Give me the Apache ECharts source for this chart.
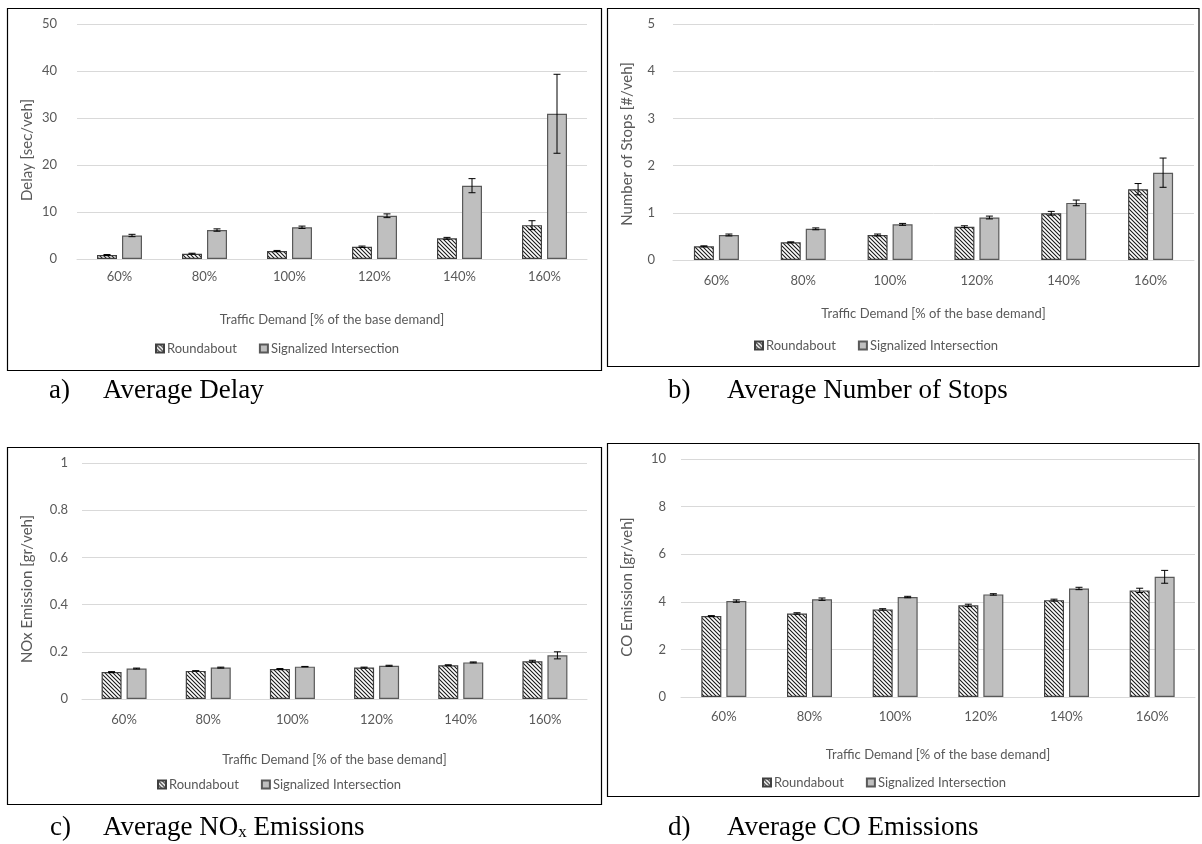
<!DOCTYPE html>
<html><head><meta charset="utf-8">
<script src="https://cdn.jsdelivr.net/npm/echarts@6/dist/echarts.min.js"></script>
<style>html,body{margin:0;padding:0;background:#fff;}#c{width:1202px;height:844px;}</style>
</head><body><div id="c"></div>
<script>
// ---------- DATA ----------
var categories = ['60%', '80%', '100%', '120%', '140%', '160%'];
var seriesNames = ['Roundabout', 'Signalized Intersection'];

var delayRound    = [0.85, 1.13, 1.7, 2.6, 4.4, 7.2];
var delayRoundErr = [0.1, 0.1, 0.12, 0.15, 0.2, 0.95];
var delaySig      = [5.0, 6.16, 6.75, 9.2, 15.6, 30.9];
var delaySigErr   = [0.25, 0.25, 0.25, 0.4, 1.5, 8.4];

var stopsRound    = [0.29, 0.375, 0.53, 0.705, 0.99, 1.50];
var stopsRoundErr = [0.01, 0.01, 0.02, 0.02, 0.04, 0.12];
var stopsSig      = [0.53, 0.66, 0.755, 0.90, 1.21, 1.85];
var stopsSigErr   = [0.02, 0.02, 0.02, 0.03, 0.06, 0.31];

var noxRound      = [0.114, 0.119, 0.127, 0.133, 0.143, 0.160];
var noxRoundErr   = [0.002, 0.001, 0.002, 0.002, 0.002, 0.004];
var noxSig        = [0.129, 0.133, 0.137, 0.141, 0.155, 0.185];
var noxSigErr     = [0.002, 0.002, 0.001, 0.002, 0.002, 0.015];

var coRound       = [3.40, 3.51, 3.68, 3.85, 4.07, 4.48];
var coRoundErr    = [0.02, 0.03, 0.03, 0.05, 0.04, 0.09];
var coSig         = [4.03, 4.11, 4.20, 4.31, 4.56, 5.05];
var coSigErr      = [0.05, 0.05, 0.03, 0.03, 0.05, 0.27];

var yMaxes     = [50, 5, 1, 10];
var yIntervals = [10, 1, 0.2, 2];
var yNames     = ['Delay [sec/veh]', 'Number of Stops [#/veh]', 'NOx Emission [gr/veh]', 'CO Emission [gr/veh]'];
var xName      = 'Traffic Demand [% of the base demand]';

// ---------- STYLE / LAYOUT ----------
var FONT = 'Lato';
var TXT = '#595959';
var BAR_W = 20;
var GAP_PCT = 0.25;

var panels = [
  {r: delayRound, re: delayRoundErr, s: delaySig, se: delaySigErr,
   grid: {left: 77, top: 24, width: 510, height: 235}, nameGap: 42, namePad: 17, labMargin: 20,
   xLabMargin: 11, xNameGap: 54, legend: {left: 150, top: 337}},
  {r: stopsRound, re: stopsRoundErr, s: stopsSig, se: stopsSigErr,
   grid: {left: 673, top: 24, width: 521, height: 236}, nameGap: 38, namePad: 4, labMargin: 18,
   xLabMargin: 14, xNameGap: 47, legend: {left: 749, top: 334}},
  {r: noxRound, re: noxRoundErr, s: noxSig, se: noxSigErr,
   grid: {left: 82, top: 463, width: 505, height: 236}, nameGap: 47, namePad: 16, labMargin: 14,
   xLabMargin: 14, xNameGap: 54, legend: {left: 152, top: 773}},
  {r: coRound, re: coRoundErr, s: coSig, se: coSigErr,
   grid: {left: 681, top: 459, width: 514, height: 238}, nameGap: 46, namePad: 18, labMargin: 15,
   xLabMargin: 13, xNameGap: 51, legend: {left: 757, top: 771}}
];

// hatch pattern
var hatch = document.createElement('canvas');
hatch.width = 4; hatch.height = 4;
(function () {
  var ctx = hatch.getContext('2d');
  ctx.fillStyle = '#ffffff'; ctx.fillRect(0, 0, 4, 4);
  ctx.strokeStyle = '#1a1a1a'; ctx.lineWidth = 1.1;
  ctx.beginPath();
  ctx.moveTo(-1, -1); ctx.lineTo(5, 5);
  ctx.moveTo(-1, 3); ctx.lineTo(1, 5);
  ctx.moveTo(3, -1); ctx.lineTo(5, 1);
  ctx.stroke();
})();

function errRender(sign) {
  return function (params, api) {
    var idx = api.value(0);
    var lo = api.coord([idx, api.value(1)]);
    var hi = api.coord([idx, api.value(2)]);
    var off = sign * BAR_W * (1 + GAP_PCT) / 2;
    var x = lo[0] + off, c = 3.5;
    var st = {stroke: '#000', lineWidth: 1};
    return {type: 'group', children: [
      {type: 'line', shape: {x1: x, y1: lo[1], x2: x, y2: hi[1]}, style: st},
      {type: 'line', shape: {x1: x - c, y1: lo[1], x2: x + c, y2: lo[1]}, style: st},
      {type: 'line', shape: {x1: x - c, y1: hi[1], x2: x + c, y2: hi[1]}, style: st}
    ]};
  };
}
function errData(v, e) {
  return v.map(function (val, i) { return [i, val - e[i], val + e[i]]; });
}

var grids = [], xAxes = [], yAxes = [], series = [], legends = [];
panels.forEach(function (p, i) {
  grids.push(p.grid);
  xAxes.push({
    type: 'category', gridIndex: i, data: categories,
    axisLine: {show: true, lineStyle: {color: '#d9d9d9', width: 1}},
    axisTick: {show: false},
    axisLabel: {color: TXT, fontFamily: FONT, fontSize: 13, margin: p.xLabMargin},
    name: xName, nameLocation: 'middle', nameGap: p.xNameGap,
    nameTextStyle: {color: TXT, fontFamily: FONT, fontSize: 13}
  });
  yAxes.push({
    type: 'value', gridIndex: i, min: 0, max: yMaxes[i], interval: yIntervals[i],
    axisLine: {show: false}, axisTick: {show: false},
    splitLine: {lineStyle: {color: '#d9d9d9', width: 1}},
    axisLabel: {color: TXT, fontFamily: FONT, fontSize: 13, margin: p.labMargin},
    name: yNames[i], nameLocation: 'middle', nameGap: p.nameGap,
    nameTextStyle: {color: TXT, fontFamily: FONT, fontSize: 15, padding: [0, p.namePad, 0, 0]}
  });
  series.push({
    name: seriesNames[0], type: 'bar', xAxisIndex: i, yAxisIndex: i, data: p.r,
    barWidth: BAR_W, barGap: (GAP_PCT * 100) + '%',
    itemStyle: {color: {image: hatch, repeat: 'repeat'}, borderColor: '#404040', borderWidth: 1.2},
    emphasis: {disabled: true}, animation: false
  });
  series.push({
    name: seriesNames[1], type: 'bar', xAxisIndex: i, yAxisIndex: i, data: p.s,
    barWidth: BAR_W, barGap: (GAP_PCT * 100) + '%',
    itemStyle: {color: '#bfbfbf', borderColor: '#595959', borderWidth: 1.2},
    emphasis: {disabled: true}, animation: false
  });
  series.push({
    type: 'custom', xAxisIndex: i, yAxisIndex: i, renderItem: errRender(-1),
    data: errData(p.r, p.re), z: 10, silent: true, animation: false
  });
  series.push({
    type: 'custom', xAxisIndex: i, yAxisIndex: i, renderItem: errRender(1),
    data: errData(p.s, p.se), z: 10, silent: true, animation: false
  });
  legends.push({
    left: p.legend.left, top: p.legend.top, data: seriesNames, icon: 'rect',
    itemWidth: 8, itemHeight: 8, itemGap: 22, selectedMode: false,
    textStyle: {color: TXT, fontFamily: FONT, fontSize: 13, padding: [0, 0, 0, -2]}
  });
});

var SERIF = 'Liberation Serif';
function cap(x, y, t) {
  return {type: 'text', left: x, top: y, style: {text: t, font: '27px "Liberation Serif"', fill: '#000'}};
}
var graphics = [
  {type: 'rect', shape: {x: 7.5, y: 8.5, width: 594, height: 362}, style: {fill: 'none', stroke: '#000', lineWidth: 1.2}},
  {type: 'rect', shape: {x: 607.5, y: 8.5, width: 591.5, height: 358}, style: {fill: 'none', stroke: '#000', lineWidth: 1.2}},
  {type: 'rect', shape: {x: 7.5, y: 447.5, width: 594, height: 357}, style: {fill: 'none', stroke: '#000', lineWidth: 1.2}},
  {type: 'rect', shape: {x: 607.5, y: 443.5, width: 591.5, height: 353}, style: {fill: 'none', stroke: '#000', lineWidth: 1.2}},
  cap(49, 377, 'a)'), cap(103, 377, 'Average Delay'),
  cap(668, 377, 'b)'), cap(727, 377, 'Average Number of Stops'),
  cap(50, 814, 'c)'),
  {type: 'text', left: 103, top: 814, style: {
    text: 'Average NO{sub|x} Emissions', font: '27px "Liberation Serif"', fill: '#000',
    rich: {sub: {fontSize: 17, fontFamily: SERIF, padding: [8, 0, 0, 0], verticalAlign: 'bottom'}}
  }},
  cap(668, 814, 'd)'), cap(727, 814, 'Average CO Emissions')
];

var chart = echarts.init(document.getElementById('c'));
chart.setOption({
  backgroundColor: '#ffffff',
  animation: false,
  grid: grids, xAxis: xAxes, yAxis: yAxes, series: series, legend: legends,
  graphic: graphics
});
</script>
</body></html>
